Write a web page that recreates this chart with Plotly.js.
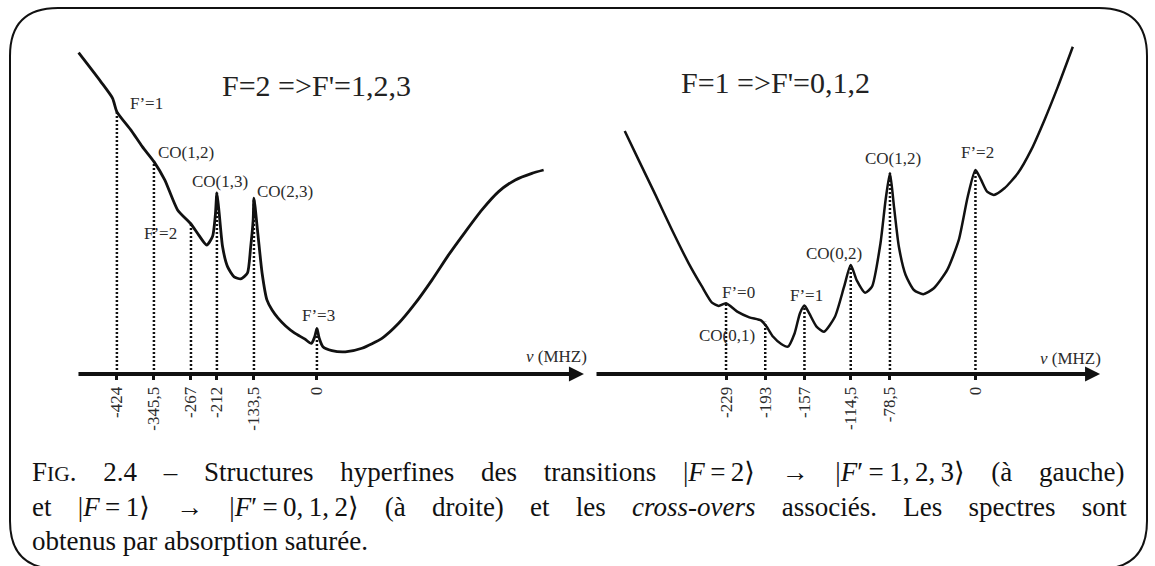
<!DOCTYPE html>
<html><head><meta charset="utf-8">
<script src="https://cdn.plot.ly/plotly-3.0.1.min.js"></script>
<style>html,body{margin:0;padding:0;background:#fff;} #chart{width:1155px;height:566px;}</style>
</head><body><div id="chart"></div>
<script>
// ---------- data ----------
// Left spectrum: F=2 -> F'=1,2,3 ; frequency (MHz) vs signal (arb. units)
const leftFreq = [-505.2,-457.9,-433.1,-424,-394.2,-370.2,-345.5,-322.6,-295.4,-267,-250.5,-233.7,-221.3,-215.3,-212,-207.2,-200.0,-189.5,-175.6,-161.5,-147.4,-140.4,-135.2,-133.5,-125.3,-116.2,-106.0,-95.1,-82.8,-66.3,-47.9,-26.1,-11.9,-4.9,0,4.7,12.7,31.8,60.2,95.4,137.8,173.2,208.6,243.7,279.1,314.5,349.7,385.1,420.5,455.7,480.5];
const leftSignal = [107.1,97.4,91.9,87.4,81.3,75.8,70.8,64.7,54.7,50.0,46.3,43.0,45.8,53.0,60.4,53.6,42.4,35.8,32.4,31.7,33.6,42.4,51.3,58.6,46.9,33.6,24.7,21.3,18.7,16.0,13.7,11.7,10.2,12.3,15.2,12.0,9.1,7.8,7.4,8.6,11.9,16.9,23.6,31.3,39.7,47.4,54.7,60.8,64.7,66.9,68.0];
// Right spectrum: F=1 -> F'=0,1,2
const rightFreq = [-322.0,-309.2,-293.8,-278.6,-263.3,-251.0,-241.9,-235.7,-229,-218.7,-207.6,-196.6,-191.8,-185.7,-178.3,-172.2,-166.0,-161.2,-157,-152.6,-145.9,-139.1,-129.0,-120.6,-114.5,-109.1,-101.3,-95.0,-87.2,-82.5,-78.5,-74.8,-70.3,-64.1,-56.5,-47.9,-38.2,-25.9,-15.3,-7.1,0,5.2,10.7,16.9,26.6,38.9,51.2,63.4,75.7,89.4];
const rightSignal = [81.0,71.3,59.7,48.0,36.9,29.1,23.8,22.7,23.6,20.8,18.9,17.8,15.8,12.4,10.0,9.1,13.6,20.2,22.8,20.2,15.8,14.1,19.1,29.1,36.3,31.3,27.1,29.1,43.6,58.0,67.0,55.8,42.4,33.0,28.0,26.6,28.6,34.7,44.7,59.1,68.0,64.7,60.8,59.7,61.9,66.9,74.7,84.7,95.8,109.1];

// Marked transitions (tick values), height of the dotted line (signal), tick labels, names
const leftMarkers = [-424,-345.5,-267,-212,-133.5,0];
const leftMarkerTop = [87.4,70.8,50.0,60.4,58.6,15.2];
const leftTickText = ["-424","-345,5","-267","-212","-133,5","0"];
const leftLabels = ["F’=1","CO(1,2)","F’=2","CO(1,3)","CO(2,3)","F’=3"];

const rightMarkers = [-229,-193,-157,-114.5,-78.5,0];
const rightMarkerTop = [23.6,17.4,22.8,36.3,67.0,68.0];
const rightTickText = ["-229","-193","-157","-114,5","-78,5","0"];
const rightLabels = ["F’=0","CO(0,1)","F’=1","CO(0,2)","CO(1,2)","F’=2"];

const panelTitles = ["F=2 =>F'=1,2,3","F=1 =>F'=0,1,2"];
const axisLabel = "<i>ν</i> (MHZ)";
const captionLines = [
  "F<span style=\"font-size:21.5px\">IG</span>. 2.4 – Structures hyperfines des transitions |<i>F</i>\u2009=\u20092⟩ → |<i>F</i>′\u2009=\u20091,\u20092,\u20093⟩ (à gauche)",
  "et |<i>F</i>\u2009=\u20091⟩ → |<i>F</i>′\u2009=\u20090,\u20091,\u20092⟩ (à droite) et les <i>cross-overs</i> associés. Les spectres sont",
  "obtenus par absorption saturée."
];

// ---------- layout helpers (pixel positions) ----------
const W = 1155, H = 566;
const px = x => x / W;
const py = y => 1 - y / H;
const serif = "Liberation Serif, DejaVu Serif, serif";
const ink = "#111";
const labelColor = "#2b2b2b";

// label pixel centres, same order as the label arrays
const leftLabelPos = [[146.7,104],[185.5,153],[160,233],[220,181.5],[284.7,191.5],[318.3,315]];
const rightLabelPos = [[738,292.5],[727,335],[806,295],[833.7,253],[893,158],[977.5,153]];
const titlePos = [[316,86],[775,83]];
const axisLabelPos = [[556,356],[1070,358]];
const captionY = [472,507,541];
const captionSpacing = [20, 19.5, 0];

const traces = [
  {x:leftFreq, y:leftSignal, xaxis:'x', yaxis:'y', mode:'lines', hoverinfo:'skip',
   line:{color:ink, width:2.8, shape:'spline', smoothing:0.6}},
  {x:rightFreq, y:rightSignal, xaxis:'x2', yaxis:'y2', mode:'lines', hoverinfo:'skip',
   line:{color:ink, width:2.5, shape:'spline', smoothing:0.6}}
];

const yDomain = [py(374), py(14)];
function xaxisDef(domain, range, vals, text){
  return {domain, range, tickvals:vals, ticktext:text, tickangle:-90,
    ticks:'outside', ticklen:5, tickwidth:3, tickcolor:ink,
    tickfont:{family:serif, size:17, color:labelColor},
    showgrid:false, zeroline:false, showline:false, fixedrange:true};
}
function yaxisDef(){
  return {domain:yDomain, range:[0,120], visible:false, fixedrange:true};
}

const shapes = [];
function dotted(markers, tops, xr, yr){
  markers.forEach((m,i)=>shapes.push({type:'line', xref:xr, yref:yr, x0:m, x1:m, y0:0, y1:tops[i],
    line:{color:ink, width:2.5, dash:'2px,2px'}}));
}
dotted(leftMarkers, leftMarkerTop, 'x', 'y');
dotted(rightMarkers, rightMarkerTop, 'x2', 'y2');

// rounded frame
(function(){
  const x0=10, x1=1147, y0=8, y1=569, r=48;
  const P = (x,y)=> px(x).toFixed(5)+','+py(y).toFixed(5);
  const path = 'M'+P(x0+r,y0)+' L'+P(x1-r,y0)+' Q'+P(x1,y0)+' '+P(x1,y0+r)+
    ' L'+P(x1,y1-r)+' Q'+P(x1,y1)+' '+P(x1-r,y1)+' L'+P(x0+r,y1)+' Q'+P(x0,y1)+' '+P(x0,y1-r)+
    ' L'+P(x0,y0+r)+' Q'+P(x0,y0)+' '+P(x0+r,y0)+' Z';
  shapes.push({type:'path', xref:'paper', yref:'paper', path, line:{color:ink, width:2}, layer:'above'});
})();

const annotations = [];
function addLabels(labels, pos){
  labels.forEach((t,i)=>annotations.push({text:t, xref:'paper', yref:'paper', x:px(pos[i][0]), y:py(pos[i][1]),
    xanchor:'center', yanchor:'middle', showarrow:false, font:{family:serif, size:17, color:labelColor}}));
}
addLabels(leftLabels, leftLabelPos);
addLabels(rightLabels, rightLabelPos);
panelTitles.forEach((t,i)=>annotations.push({text:t, xref:'paper', yref:'paper', x:px(titlePos[i][0]), y:py(titlePos[i][1]),
  xanchor:'center', yanchor:'middle', showarrow:false, font:{family:serif, size:30, color:'#222'}}));
axisLabelPos.forEach(p=>annotations.push({text:axisLabel, xref:'paper', yref:'paper', x:px(p[0]), y:py(p[1]),
  xanchor:'center', yanchor:'middle', showarrow:false, font:{family:serif, size:17, color:labelColor}}));
// axis arrows
[['x','y',-508.6,566.0],['x2','y2',-349.3,114.4]].forEach(a=>annotations.push({
  xref:a[0], yref:a[1], axref:a[0], ayref:a[1], x:a[3], y:0, ax:a[2], ay:0, text:'',
  showarrow:true, arrowhead:2, arrowsize:0.75, arrowwidth:4, arrowcolor:ink, standoff:0, startstandoff:0}));
// caption
captionLines.forEach((t,i)=>annotations.push({
  text: captionSpacing[i] ? '<span style="word-spacing:'+captionSpacing[i]+'px">'+t+'</span>' : t,
  xref:'paper', yref:'paper', x:px(30), y:py(captionY[i]),
  xanchor:'left', yanchor:'middle', showarrow:false, font:{family:serif, size:27, color:ink}}));

const layout = {
  width:W, height:H, margin:{l:0,r:0,t:0,b:0}, paper_bgcolor:'#fff', plot_bgcolor:'rgba(0,0,0,0)',
  showlegend:false,
  xaxis: Object.assign(xaxisDef([px(60),px(600)], [-544.6,600], leftMarkers, leftTickText), {anchor:'y'}),
  yaxis: yaxisDef(),
  xaxis2: Object.assign(xaxisDef([px(590),px(1130)], [-353.9,141.9], rightMarkers, rightTickText), {anchor:'y2'}),
  yaxis2: Object.assign(yaxisDef(), {anchor:'x2'}),
  shapes, annotations
};
Plotly.newPlot('chart', traces, layout, {displayModeBar:false, staticPlot:true});
</script></body></html>
